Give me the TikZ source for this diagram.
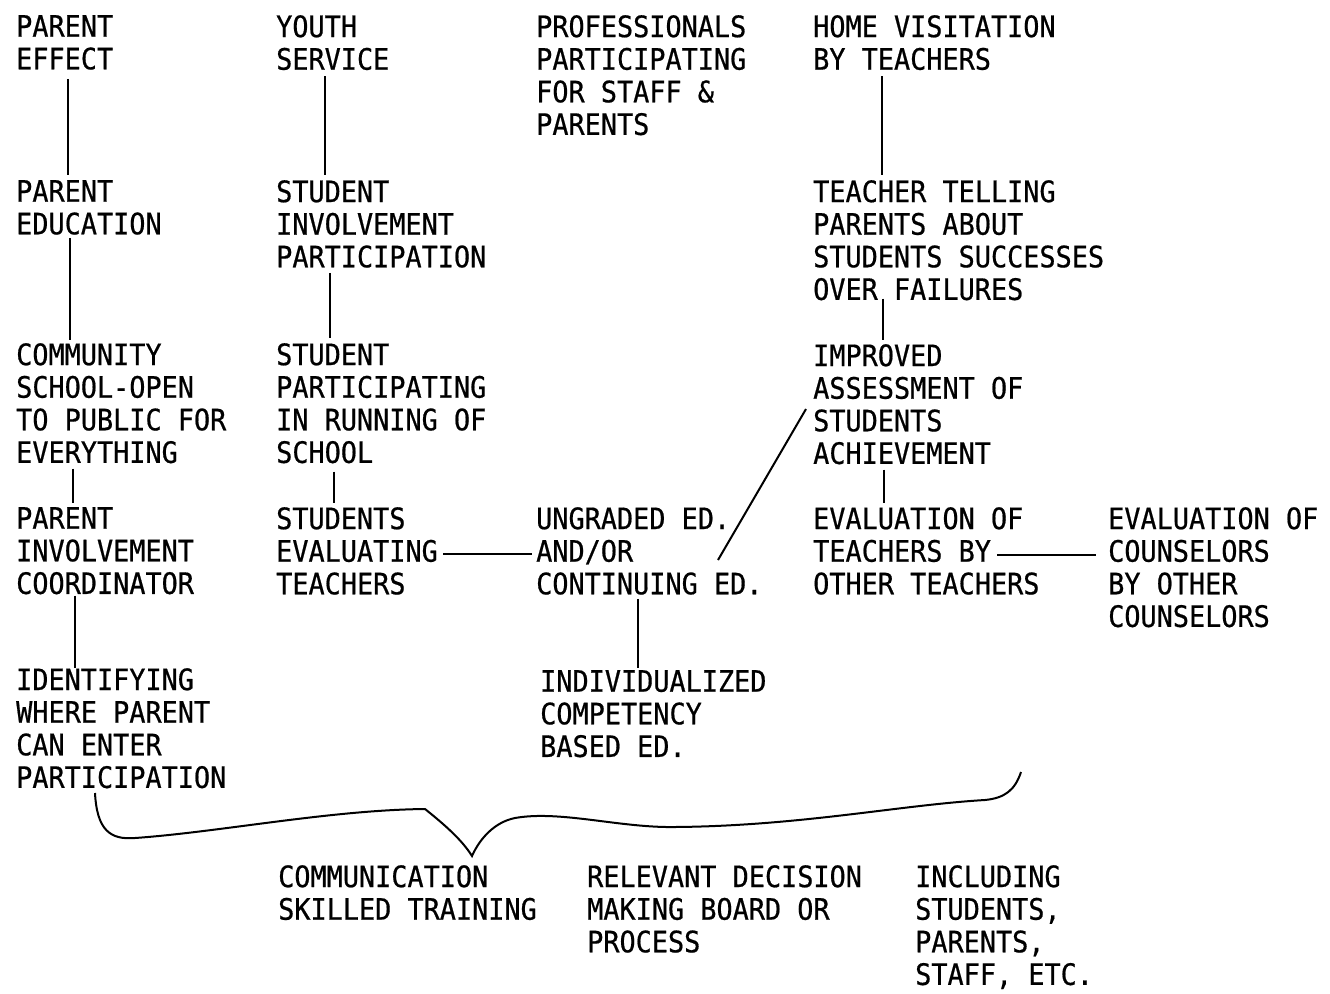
\documentclass[tikz,border=0pt]{standalone}
\usepackage{fontspec}
\newfontfamily\typefont{DejaVu Sans Mono}[FakeStretch=0.91,FakeBold=0.6]
\usetikzlibrary{calc}

\begin{document}
\begin{tikzpicture}[x=1pt,y=-1pt,
    txt/.style={anchor=north west,inner sep=0pt,align=left,
      font=\typefont\fontsize{29.5}{32.6}\selectfont},
    link/.style={line width=2pt}]
  \useasboundingbox[fill=white] (0,0) rectangle (1330,993);
  \node[txt] (pe) at (16,15) {PARENT\\EFFECT};
  \node[txt] (ped) at (16,180) {PARENT\\EDUCATION};
  \node[txt] (csp) at (16,343) {COMMUNITY\\SCHOOL-OPEN\\TO PUBLIC FOR\\EVERYTHING};
  \node[txt] (pic) at (16,507) {PARENT\\INVOLVEMENT\\COORDINATOR};
  \node[txt] (idp) at (16,668) {IDENTIFYING\\WHERE PARENT\\CAN ENTER\\PARTICIPATION};
  \node[txt] (ys) at (276,15) {YOUTH\\SERVICE};
  \node[txt] (sip) at (276,180) {STUDENT\\INVOLVEMENT\\PARTICIPATION};
  \node[txt] (spr) at (276,343) {STUDENT\\PARTICIPATING\\IN RUNNING OF\\SCHOOL};
  \node[txt] (sev) at (276,507) {STUDENTS\\EVALUATING\\TEACHERS};
  \node[txt] (pps) at (536,15) {PROFESSIONALS\\PARTICIPATING\\FOR STAFF \&\\PARENTS};
  \node[txt] (ugr) at (536,507) {UNGRADED ED.\\AND/OR\\CONTINUING ED.};
  \node[txt] (icb) at (540,670) {INDIVIDUALIZED\\COMPETENCY\\BASED ED.};
  \node[txt] (hv) at (813,15) {HOME VISITATION\\BY TEACHERS};
  \node[txt] (ttp) at (813,180) {TEACHER TELLING\\PARENTS ABOUT\\STUDENTS SUCCESSES\\OVER FAILURES};
  \node[txt] (ias) at (813,344) {IMPROVED\\ASSESSMENT OF\\STUDENTS\\ACHIEVEMENT};
  \node[txt] (ete) at (813,507) {EVALUATION OF\\TEACHERS BY\\OTHER TEACHERS};
  \node[txt] (ecc) at (1108,507) {EVALUATION OF\\COUNSELORS\\BY OTHER\\COUNSELORS};
  \node[txt] (cst) at (278,865) {COMMUNICATION\\SKILLED TRAINING};
  \node[txt] (rdm) at (587,865) {RELEVANT DECISION\\MAKING BOARD OR\\PROCESS};
  \node[txt] (inc) at (915,865) {INCLUDING\\STUDENTS,\\PARENTS,\\STAFF, ETC.};

  \draw[link] ([xshift=52pt,yshift=-9pt]pe.south west) -- ([xshift=52pt,yshift=5pt]ped.north west);
  \draw[link] ([xshift=54pt,yshift=-3pt]ped.south west) -- ([xshift=54pt,yshift=3pt]csp.north west);
  \draw[link] ([xshift=57pt,yshift=-5pt]csp.south west) -- ([xshift=57pt,yshift=4pt]pic.north west);
  \draw[link] ([xshift=59pt,yshift=-1pt]pic.south west) -- ([xshift=59pt]idp.north west);
  \draw[link] ([xshift=49pt,yshift=-6pt]ys.south west) -- ([xshift=49pt,yshift=5pt]sip.north west);
  \draw[link] ([xshift=54pt,yshift=-5pt]sip.south west) -- ([xshift=54pt,yshift=5pt]spr.north west);
  \draw[link] ([xshift=58pt,yshift=-8pt]spr.south west) -- ([xshift=58pt,yshift=4pt]sev.north west);
  \draw[link] ([xshift=5pt,yshift=-3pt]sev.east) -- ([xshift=-4pt,yshift=-3pt]ugr.west);
  \draw[link] ([xshift=102pt,yshift=-4pt]ugr.south west) -- ([xshift=98pt,yshift=2pt]icb.north west);
  \draw[link] ($(ugr.north west)+(182,53)$) -- ($(ias.north west)+(-7,65)$);
  \draw[link] ([xshift=69pt,yshift=-6pt]hv.south west) -- ([xshift=69pt,yshift=5pt]ttp.north west);
  \draw[link] ([xshift=70pt,yshift=2pt]ttp.south west) -- ([xshift=70pt,yshift=4pt]ias.north west);
  \draw[link] ([xshift=71pt,yshift=-5pt]ias.south west) -- ([xshift=71pt,yshift=4pt]ete.north west);
  \draw[link] ($(ete.north west)+(184,48)$) -- ($(ecc.north west)+(-12,48)$);

  \draw[link] (95,793) .. controls (97,830) and (110,840) .. (135,838)
    .. controls (220,832) and (330,810) .. (425,809)
    .. controls (445,825) and (462,840) .. (472,856)
    .. controls (480,838) and (495,822) .. (515,818)
    .. controls (560,810) and (620,828) .. (675,827)
    .. controls (800,826) and (900,805) .. (985,800)
    .. controls (1005,798) and (1015,790) .. (1021,772);
\end{tikzpicture}
\end{document}
